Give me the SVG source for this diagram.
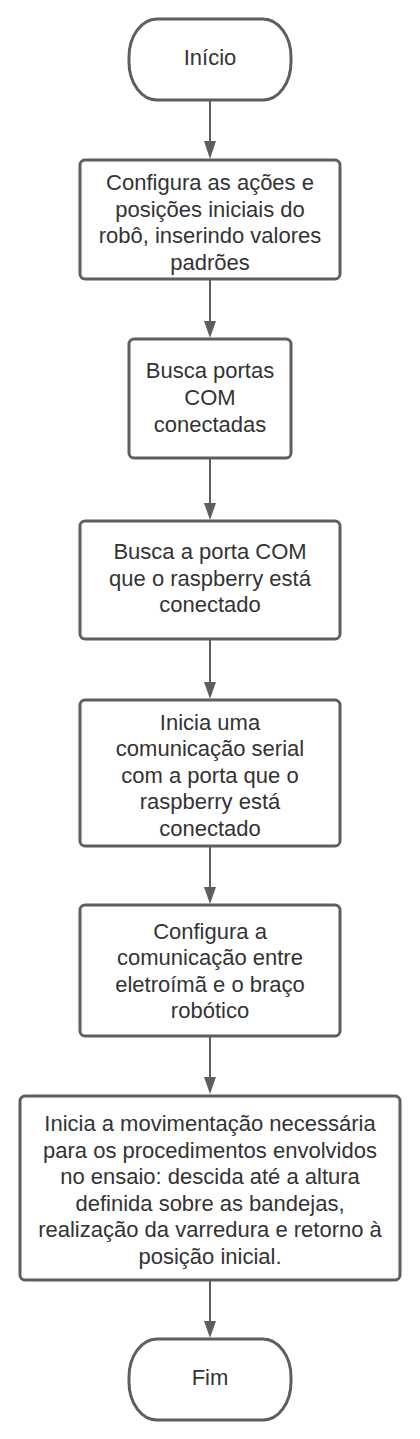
<svg xmlns="http://www.w3.org/2000/svg" width="420" height="1439" viewBox="0 0 420 1439">
<style>
.shape{fill:#ffffff;stroke:#5e5e5e;stroke-width:3}
.conn{stroke:#5e5e5e;stroke-width:2;fill:none}
.head{fill:#5e5e5e}
text{font-family:"Liberation Sans",Arial,sans-serif;font-size:22px;fill:#333333;text-anchor:middle}
</style>
<rect width="420" height="1439" fill="#ffffff"/>
<g id="connectors">
<line class="conn" x1="210" y1="100" x2="210" y2="143"/><polygon class="head" points="204,141 216,141 210,159"/>
<line class="conn" x1="210" y1="280" x2="210" y2="323"/><polygon class="head" points="204,321 216,321 210,338"/>
<line class="conn" x1="210" y1="459" x2="210" y2="505"/><polygon class="head" points="204,503 216,503 210,520"/>
<line class="conn" x1="210" y1="640" x2="210" y2="684"/><polygon class="head" points="204,682 216,682 210,699"/>
<line class="conn" x1="210" y1="847" x2="210" y2="889"/><polygon class="head" points="204,887 216,887 210,904"/>
<line class="conn" x1="210" y1="1037" x2="210" y2="1079"/><polygon class="head" points="204,1077 216,1077 210,1094"/>
<line class="conn" x1="210" y1="1281" x2="210" y2="1323"/><polygon class="head" points="204,1321 216,1321 210,1338"/>
</g>
<g id="inicio">
<rect class="shape" x="129" y="19" width="162" height="81" rx="28" ry="38"/>
<text x="210" y="65">Início</text>
</g>
<g id="configura-acoes">
<rect class="shape" x="80" y="160" width="260" height="119" rx="5"/>
<text x="210" y="190">Configura as ações e</text>
<text x="210" y="216.5">posições iniciais do</text>
<text x="210" y="243">robô, inserindo valores</text>
<text x="210" y="269.5">padrões</text>
</g>
<g id="busca-portas">
<rect class="shape" x="129" y="339" width="162" height="119" rx="5"/>
<text x="210" y="378">Busca portas</text>
<text x="210" y="405">COM</text>
<text x="210" y="432">conectadas</text>
</g>
<g id="busca-porta-raspberry">
<rect class="shape" x="80" y="521" width="260" height="118" rx="5"/>
<text x="210" y="559">Busca a porta COM</text>
<text x="210" y="585.5">que o raspberry está</text>
<text x="210" y="612">conectado</text>
</g>
<g id="inicia-comunicacao">
<rect class="shape" x="80" y="700" width="260" height="146" rx="5"/>
<text x="210" y="729.5">Inicia uma</text>
<text x="210" y="756">comunicação serial</text>
<text x="210" y="782.5">com a porta que o</text>
<text x="210" y="809">raspberry está</text>
<text x="210" y="835.5">conectado</text>
</g>
<g id="configura-comunicacao">
<rect class="shape" x="80" y="905" width="260" height="131" rx="5"/>
<text x="210" y="938.5">Configura a</text>
<text x="210" y="965">comunicação entre</text>
<text x="210" y="991.5">eletroímã e o braço</text>
<text x="210" y="1018">robótico</text>
</g>
<g id="movimentacao">
<rect class="shape" x="20" y="1096" width="380" height="184" rx="5"/>
<text x="210" y="1131">Inicia a movimentação necessária</text>
<text x="210" y="1157.5">para os procedimentos envolvidos</text>
<text x="210" y="1184">no ensaio: descida até a altura</text>
<text x="210" y="1210.5">definida sobre as bandejas,</text>
<text x="210" y="1237">realização da varredura e retorno à</text>
<text x="210" y="1263.5">posição inicial.</text>
</g>
<g id="fim">
<rect class="shape" x="129" y="1339" width="162" height="81" rx="28" ry="38"/>
<text x="210" y="1385">Fim</text>
</g>
</svg>
